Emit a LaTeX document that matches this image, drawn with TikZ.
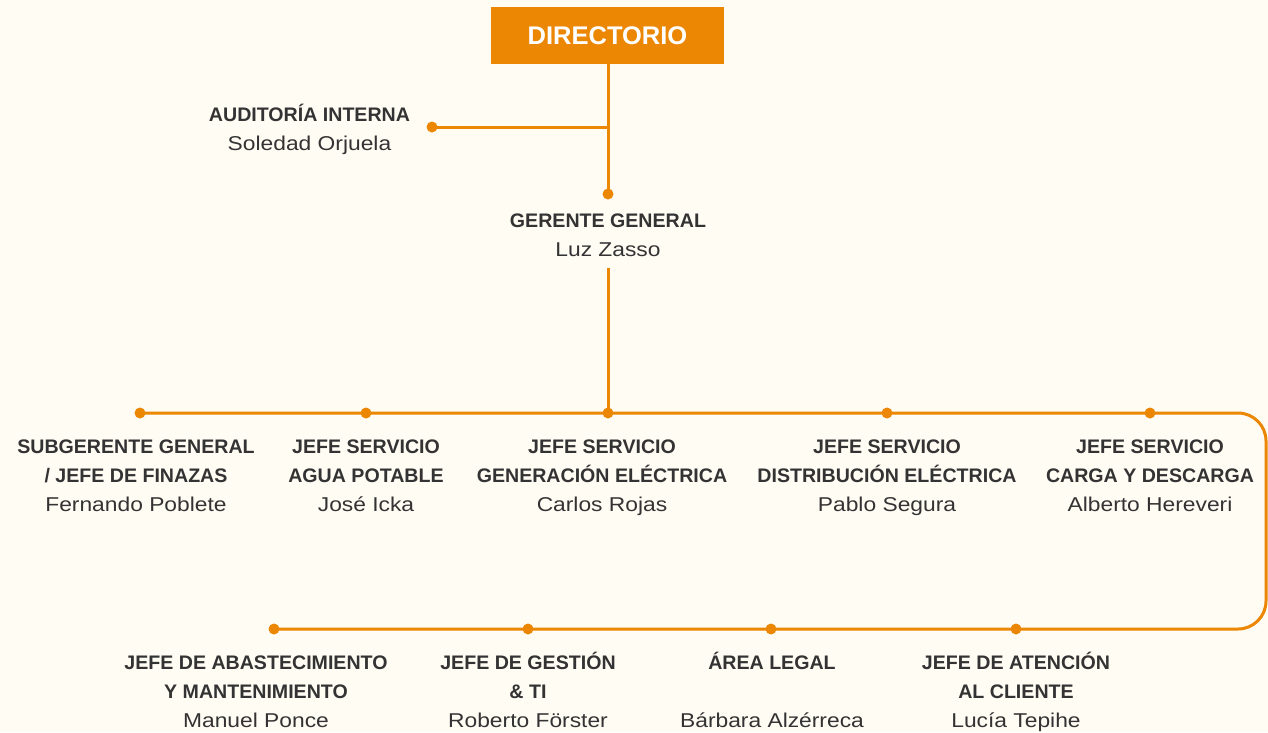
\documentclass[tikz,border=0pt]{standalone}
\usepackage{fontspec}
\setmainfont{Liberation Sans}
\newfontfamily\rgfont[FakeStretch=1.14]{Liberation Sans}
\definecolor{bg}{HTML}{FFFCF4}
\definecolor{org}{HTML}{EC8703}
\definecolor{ink}{HTML}{333333}
\tikzset{
  ttl/.style={anchor=base, inner sep=0pt, text=ink, font=\fontsize{19.6}{29}\selectfont\bfseries},
  nm/.style={anchor=base, inner sep=0pt, text=ink, font=\fontsize{20}{29}\selectfont\rgfont},
  dotnode/.style={circle, fill=org, inner sep=0pt, minimum size=11pt},
  ln/.style={draw=org, line width=3pt},
}
\begin{document}
\begin{tikzpicture}[x=1pt,y=-1pt]
\fill[bg] (0,0) rectangle (1268,732);
\useasboundingbox (0,0) rectangle (1268,732);

% top box
\node[fill=org, minimum width=233pt, minimum height=57pt, inner sep=0pt, text=white,
      font=\fontsize{25.5}{30}\selectfont\bfseries] (dir) at (607.5,35.5) {DIRECTORIO};

% dots
\node[dotnode] (dA) at (432,127) {};
\coordinate (jA) at (608,127);
\node[dotnode] (dG) at (608,194) {};
\node[dotnode] (r1) at (140,413) {};
\node[dotnode] (r2) at (366,413) {};
\node[dotnode] (r3) at (608,413) {};
\node[dotnode] (r4) at (887,413) {};
\node[dotnode] (r5) at (1150,413) {};
\coordinate (cTR) at (1266,413);
\coordinate (cBR) at (1266,629);
\node[dotnode] (s1) at (274,629) {};
\node[dotnode] (s2) at (528,629) {};
\node[dotnode] (s3) at (771,629) {};
\node[dotnode] (s4) at (1016,629) {};

% texts
\node[ttl] (aud) at (309.5,121) {AUDITORÍA INTERNA};
\node[nm] (audn) at (309.5,150) {Soledad Orjuela};

\node[ttl] (ger) at (608,227) {GERENTE GENERAL};
\node[nm] (gern) at (608,256.5) {Luz Zasso};

\node[ttl] (t1) at (136,453) {SUBGERENTE GENERAL};
\node[ttl] (t1b) at (136,482) {/ JEFE DE FINAZAS};
\node[nm] (n1) at (136,511) {Fernando Poblete};

\node[ttl] (t2) at (366,453) {JEFE SERVICIO};
\node[ttl] (t2b) at (366,482) {AGUA POTABLE};
\node[nm] (n2) at (366,511) {José Icka};

\node[ttl] (t3) at (602,453) {JEFE SERVICIO};
\node[ttl] (t3b) at (602,482) {GENERACIÓN ELÉCTRICA};
\node[nm] (n3) at (602,511) {Carlos Rojas};

\node[ttl] (t4) at (887,453) {JEFE SERVICIO};
\node[ttl] (t4b) at (887,482) {DISTRIBUCIÓN ELÉCTRICA};
\node[nm] (n4) at (887,511) {Pablo Segura};

\node[ttl] (t5) at (1150,453) {JEFE SERVICIO};
\node[ttl] (t5b) at (1150,482) {CARGA Y DESCARGA};
\node[nm] (n5) at (1150,511) {Alberto Hereveri};

\node[ttl] (u1) at (256,669) {JEFE DE ABASTECIMIENTO};
\node[ttl] (u1b) at (256,698) {Y MANTENIMIENTO};
\node[nm] (m1) at (256,727) {Manuel Ponce};

\node[ttl] (u2) at (528,669) {JEFE DE GESTIÓN};
\node[ttl] (u2b) at (528,698) {\& TI};
\node[nm] (m2) at (528,727) {Roberto Förster};

\node[ttl] (u3) at (772,669) {ÁREA LEGAL};
\node[nm] (m3) at (772,727) {Bárbara Alzérreca};

\node[ttl] (u4) at (1016,669) {JEFE DE ATENCIÓN};
\node[ttl] (u4b) at (1016,698) {AL CLIENTE};
\node[nm] (m4) at (1016,727) {Lucía Tepihe};

% connectors
\draw[ln] (dir.south -| dG.center) -- (dG.center);
\draw[ln] (jA) -- (dA.center);
\draw[ln] ([yshift=-11.5pt]gern.south) -- (r3.center);
\draw[ln, rounded corners=28pt] (r1.center) -- (r2.center) -- (r3.center) -- (r4.center) -- (r5.center)
  -- (cTR) -- (cBR) -- (s4.center) -- (s3.center) -- (s2.center) -- (s1.center);
\end{tikzpicture}
\end{document}
